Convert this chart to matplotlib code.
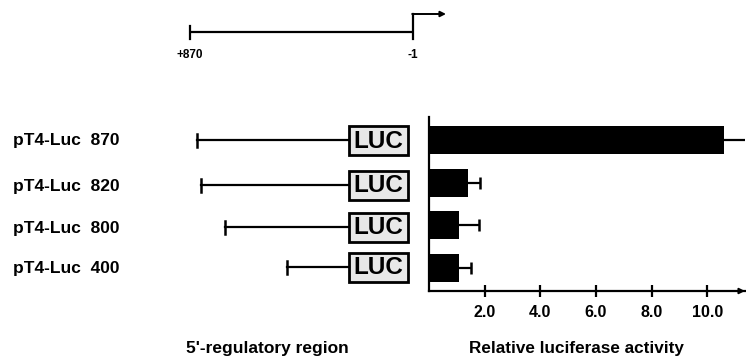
import matplotlib
matplotlib.use("Agg")
import matplotlib.pyplot as plt
from matplotlib.patches import Rectangle

plt.rcParams['font.family'] = ['Liberation Sans', 'DejaVu Sans']

# ---- data ----
constructs = ["pT4-Luc  870", "pT4-Luc  820", "pT4-Luc  800", "pT4-Luc  400"]
activity = [10.6, 1.4, 1.08, 1.08]
activity_err = [1.0, 0.43, 0.72, 0.42]
xticks = [2.0, 4.0, 6.0, 8.0, 10.0]
xticklabels = ["2.0", "4.0", "6.0", "8.0", "10.0"]
# schematic: drawn start of each 5' region (schematic pixel units)
construct_start = [197, 201, 225, 287]
map_labels = ["+870", "-1"]

W, H = 746, 358
fig = plt.figure(figsize=(W / 100, H / 100), dpi=100)

# schematic axes in pixel units covering the whole figure
sch = fig.add_axes([0, 0, 1, 1])
sch.set_xlim(0, W)
sch.set_ylim(H, 0)
sch.axis('off')

# top map
sch.plot([190, 413], [32, 32], color='black', lw=1.6, solid_capstyle='butt')
sch.plot([190, 190], [26, 39], color='black', lw=1.6)
sch.plot([413, 413], [14, 39], color='black', lw=1.6)
sch.annotate('', xy=(446, 14), xytext=(412.2, 14),
             arrowprops=dict(arrowstyle='-|>', color='black', lw=1.4,
                             mutation_scale=8, shrinkA=0, shrinkB=0))
sch.text(190, 55, map_labels[0], ha='center', va='center', fontsize=8.5, fontweight='bold')
sch.text(413, 55, map_labels[1], ha='center', va='center', fontsize=8.5, fontweight='bold')

row_y = [140, 185, 227, 267]
box_left, box_w, box_h = 349, 59, 29
for name, start, yc in zip(constructs, construct_start, row_y):
    sch.text(13, yc + 1, name, ha='left', va='center', fontsize=12.5, fontweight='bold')
    sch.plot([start, box_left], [yc, yc], color='black', lw=1.6)
    sch.plot([start, start], [yc - 6.5, yc + 6.5], color='black', lw=1.8)
    sch.add_patch(Rectangle((box_left, yc - box_h / 2), box_w, box_h,
                            facecolor='#e8e8e8', edgecolor='black', lw=2.0))
    sch.text(box_left + box_w / 2, yc + 1, "LUC", ha='center', va='center',
             fontsize=17.5, fontweight='bold')

sch.text(267, 348, "5'-regulatory region", ha='center', va='center',
         fontsize=12.5, fontweight='bold')
sch.text(576, 348, "Relative luciferase activity", ha='center', va='center',
         fontsize=12.3, fontweight='bold')

# bar chart axes
x0, x1, ytop, ybot = 429, 745, 117, 291
ax = fig.add_axes([x0 / W, 1 - ybot / H, (x1 - x0) / W, (ybot - ytop) / H])
ax.patch.set_alpha(0)
pos = [3, 2, 1, 0]
ax.barh(pos, activity, height=0.66, color='black')
err_end = [a + e for a, e in zip(activity, activity_err)]
ax.hlines(pos, activity, err_end, color='black', lw=1.6)
ax.plot(err_end, pos, linestyle='none', marker='|', markersize=9,
        markeredgewidth=1.8, color='black')
ax.set_xlim(0, 11.36)
ax.set_ylim(-0.55, 3.55)
ax.set_xticks(xticks)
ax.set_xticklabels(xticklabels, fontsize=11.5, fontweight='bold')
ax.set_yticks([])
ax.tick_params(axis='x', direction='inout', length=8, width=1.6, pad=6)
for s in ['top', 'right']:
    ax.spines[s].set_visible(False)
for s in ['left', 'bottom']:
    ax.spines[s].set_linewidth(1.6)
ax.annotate('', xy=(1.0, 0), xytext=(0.97, 0), xycoords='axes fraction',
            arrowprops=dict(arrowstyle='-|>', color='black', lw=1.4,
                            mutation_scale=8, shrinkA=0, shrinkB=0))

fig.savefig("out.png", dpi=100)
